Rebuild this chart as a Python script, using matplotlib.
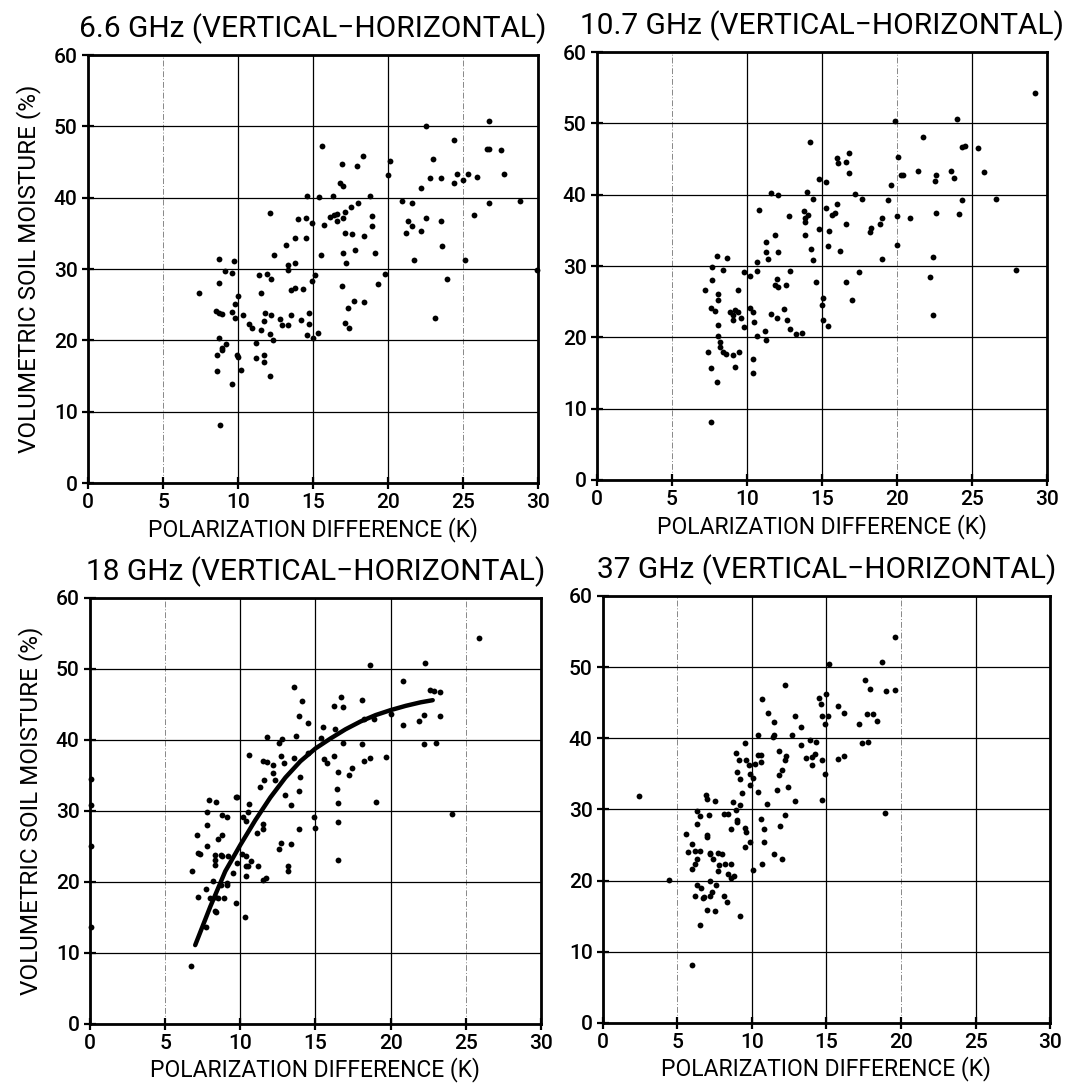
import matplotlib
matplotlib.use("Agg")
import matplotlib.pyplot as plt

plt.rcParams['font.family'] = ['Roboto', 'DejaVu Sans']
plt.rcParams['font.weight'] = 'medium'

# titles / labels
titles = ['6.6 GHz (VERTICAL\u2212HORIZONTAL)', '10.7 GHz (VERTICAL\u2212HORIZONTAL)',
          '18 GHz (VERTICAL\u2212HORIZONTAL)', '37 GHz (VERTICAL\u2212HORIZONTAL)']
xlabel_text = 'POLARIZATION DIFFERENCE (K)'
ylabel_text = 'VOLUMETRIC SOIL MOISTURE (%)'
x_ticks = [0, 5, 10, 15, 20, 25, 30]
y_ticks = [0, 10, 20, 30, 40, 50, 60]

# 6.6 GHz
x_66 = [14.6, 15.4, 12.1, 14.0, 14.5, 14.9, 13.2, 13.8, 14.5, 12.4, 15.5, 8.7, 9.7, 9.1, 9.6, 13.3, 13.3,
        13.8, 11.4, 11.9, 12.2, 15.1, 14.9, 8.7, 7.4, 11.5, 13.5, 13.8, 14.3, 10.0, 9.8, 8.5, 8.7, 8.9,
        9.6, 9.8, 10.3, 11.8, 12.2, 13.5, 14.7, 10.7, 10.9, 11.7, 11.5, 12.8, 12.9, 13.3, 14.2, 14.7,
        12.1, 12.3, 14.6, 15.0, 15.3, 8.7, 9.2, 8.9, 8.9, 8.6, 9.9, 10.0, 11.2, 11.2, 11.7, 11.7, 8.6,
        10.2, 12.1, 9.6, 8.8,
        22.5, 26.7, 24.4, 26.6, 26.7, 27.5, 15.6, 18.3, 16.9, 17.9, 20.1, 20.0, 23.0, 22.8, 23.5, 24.6,
        24.4, 25.0, 25.3, 25.9, 27.7, 22.2, 16.8, 17.0, 16.3, 18.8, 18.0, 17.5, 17.1, 16.1, 16.4, 16.6,
        17.0, 16.6, 15.7, 18.9, 18.9, 17.1, 17.6, 18.4, 20.9, 21.6, 21.3, 21.6, 21.2, 22.5, 22.2, 23.5,
        23.6, 26.7, 28.8, 25.7, 25.1, 17.0, 17.8, 19.1, 17.2, 21.7, 19.8, 19.3, 16.9, 17.7, 18.4, 17.3,
        17.1, 17.4, 23.9, 23.1, 29.9]
y_66 = [40.3, 40.1, 37.9, 37.0, 37.1, 36.5, 33.4, 34.3, 34.3, 32.0, 31.9, 31.4, 31.1, 29.7, 29.4, 30.5, 29.9,
        30.9, 29.1, 29.3, 28.6, 29.2, 28.3, 28.1, 26.6, 26.6, 27.1, 27.4, 27.2, 26.2, 25.1, 24.1, 23.9, 23.7,
        24.0, 23.1, 23.6, 23.8, 23.6, 23.6, 23.9, 22.3, 21.7, 22.7, 21.4, 23.0, 22.2, 22.2, 22.8, 22.3,
        20.9, 20.1, 20.7, 20.4, 21.1, 20.4, 19.5, 19.0, 18.6, 17.9, 17.9, 17.6, 19.6, 17.5, 17.9, 16.9, 15.7,
        15.9, 15.0, 13.9, 8.2,
        50.0, 50.7, 48.1, 46.8, 46.9, 46.7, 47.2, 45.9, 44.7, 44.5, 45.2, 43.2, 45.4, 42.8, 42.8, 43.3,
        42.0, 42.5, 43.3, 42.9, 43.3, 41.4, 42.1, 41.6, 40.3, 40.2, 39.3, 38.7, 38.0, 37.3, 37.6, 37.7,
        37.2, 36.7, 36.2, 37.4, 36.0, 35.1, 34.9, 34.7, 39.5, 39.3, 36.8, 36.0, 35.0, 37.2, 35.4, 36.8,
        33.2, 39.3, 39.5, 37.6, 31.3, 32.3, 32.7, 32.2, 30.8, 31.2, 29.3, 27.9, 27.6, 25.5, 25.4, 24.6,
        22.4, 21.7, 28.6, 23.2, 29.8]

# 10.7 GHz
x_107 = [14.2, 14.8, 15.3, 11.6, 12.1, 14.0, 14.4, 10.8, 12.8, 13.8, 14.1, 13.9, 13.9, 15.3, 14.8, 15.5,
         15.4, 11.9, 13.9, 11.3, 11.3, 12.1, 11.4, 14.3, 14.4, 10.7, 10.7, 8.0, 8.7, 7.7, 8.4, 9.8, 10.2,
         12.9, 7.7, 7.2, 9.4, 8.1, 12.0, 11.9, 12.1, 12.6, 14.6, 8.1, 15.1, 15.0, 7.6, 7.9, 8.9, 9.2, 9.4,
         9.1, 9.6, 9.1, 10.2, 10.4, 10.5, 12.5, 11.6, 12.0, 12.7, 8.1, 9.8, 12.9, 13.3, 13.7, 11.2, 10.7,
         15.1, 15.4, 8.1, 8.2, 8.2, 8.4, 8.6, 7.4, 9.1, 9.5, 11.3, 10.4, 7.6, 9.2, 10.4, 8.0, 7.6,
         29.2, 19.9, 24.0, 21.7, 16.0, 16.1, 16.6, 16.8, 16.8, 20.1, 24.3, 24.5, 25.4, 17.2, 17.7, 19.6,
         20.3, 20.4, 21.4, 22.6, 22.5, 23.6, 23.8, 25.8, 19.4, 24.3, 26.6, 16.0, 15.9, 15.7, 16.6, 19.0,
         18.9, 20.0, 20.9, 22.6, 24.1, 18.2, 18.3, 16.2, 20.0, 19.0, 22.4, 17.5, 22.2, 27.9, 16.6, 17.0,
         22.4]
y_107 = [47.4, 42.2, 41.8, 40.3, 40.0, 40.4, 39.4, 37.8, 37.0, 37.7, 37.2, 36.8, 36.2, 38.1, 35.2, 34.9,
         32.8, 34.3, 34.3, 33.3, 31.9, 31.9, 31.0, 32.4, 30.8, 30.6, 29.3, 31.4, 31.1, 29.8, 29.4, 29.2, 28.6,
         29.3, 28.1, 26.7, 26.6, 26.1, 28.2, 27.4, 27.0, 27.3, 27.7, 25.2, 25.5, 24.6, 24.1, 23.7, 23.6, 23.8,
         23.6, 23.1, 22.7, 22.4, 24.1, 23.6, 22.2, 24.0, 23.3, 22.7, 22.4, 21.7, 21.4, 21.1, 20.5, 20.6,
         20.9, 20.2, 22.4, 21.6, 20.2, 19.4, 18.7, 18.0, 17.6, 17.9, 17.5, 17.9, 19.6, 17.0, 15.7, 15.9, 15.0,
         13.8, 8.2,
         54.2, 50.3, 50.6, 48.1, 45.2, 44.4, 44.6, 45.9, 43.1, 45.3, 46.7, 46.8, 46.5, 40.1, 39.4, 41.3,
         42.8, 42.7, 43.3, 42.8, 41.9, 43.3, 42.4, 43.2, 39.2, 39.2, 39.4, 38.7, 37.5, 37.1, 35.9, 36.7,
         35.9, 37.0, 36.8, 37.4, 37.3, 34.8, 35.3, 32.1, 33.0, 31.0, 31.2, 29.2, 28.5, 29.5, 27.7, 25.3,
         23.1]

# 18 GHz
x_18 = [0.05, 0.05, 0.05, 0.05,
        13.6, 14.1, 13.9, 14.5, 11.8, 12.8, 13.7, 12.6, 10.6, 12.7, 13.6, 14.5, 11.5, 11.8, 12.2, 12.9,
        12.2, 12.3, 11.6, 11.3, 14.0, 13.9, 13.0, 13.4, 9.7, 9.8, 7.9, 8.4, 10.6, 10.5, 7.8, 8.8, 9.1,
        10.2, 10.4, 7.8, 11.5, 11.5, 11.1, 13.9, 7.1, 8.8, 8.5, 7.8, 12.7, 12.6, 13.4, 7.2, 7.3, 8.3,
        8.7, 8.8, 9.2, 8.3, 8.3, 10.1, 10.4, 10.7, 9.8, 10.4, 10.5, 11.2, 9.5, 10.4, 11.5, 11.7, 13.2,
        13.2, 6.8, 8.2, 9.1, 9.1, 8.7, 7.7, 7.2, 8.0, 8.3, 8.5, 8.9, 9.7, 8.3, 8.4, 10.3, 7.7, 6.7,
        25.9, 18.6, 22.3, 20.8, 22.6, 22.9, 23.3, 16.7, 16.2, 16.8, 18.1, 18.2, 18.9, 20.0, 22.2, 23.3,
        21.9, 20.8, 15.5, 16.3, 15.4, 16.8, 18.1, 22.2, 23.0, 16.2, 19.7, 15.6, 15.8, 18.2, 18.6, 17.4,
        16.5, 17.2, 16.4, 16.5, 19.0, 14.9, 15.0, 16.5, 24.1, 16.5]
y_18 = [34.5, 30.9, 25.1, 13.6,
        47.5, 45.5, 43.4, 42.4, 40.4, 40.2, 40.5, 39.5, 37.9, 37.8, 37.5, 38.2, 37.0, 36.9, 36.4, 36.7,
        35.3, 34.4, 34.4, 33.4, 34.8, 32.8, 32.3, 30.8, 32.0, 32.0, 31.5, 31.2, 31.0, 29.9, 29.9, 29.4, 29.1,
        29.2, 28.6, 28.0, 28.2, 27.4, 26.9, 27.5, 26.6, 26.6, 26.1, 25.1, 25.5, 24.7, 25.4, 24.1, 23.9, 23.8,
        23.8, 23.6, 23.7, 23.1, 22.4, 23.9, 23.6, 22.9, 22.6, 22.2, 22.2, 22.3, 21.3, 20.9, 20.3, 20.6, 22.3,
        21.5, 21.6, 20.2, 19.9, 19.6, 19.5, 19.0, 17.9, 17.7, 17.9, 17.7, 17.8, 17.0, 15.9, 15.7, 15.0, 13.7,
        8.2,
        54.4, 50.5, 50.8, 48.3, 47.1, 46.9, 46.8, 46.1, 44.8, 44.7, 45.6, 43.0, 43.0, 43.6, 43.5, 43.4,
        42.6, 42.1, 41.8, 41.5, 40.3, 39.6, 39.4, 39.4, 39.6, 37.8, 37.6, 37.3, 36.8, 37.0, 37.4, 36.0,
        35.5, 35.0, 33.1, 31.1, 31.3, 29.2, 27.6, 28.5, 29.6, 23.1]

# 18 GHz regression curve
fit_18_x = [7.0, 8.0, 9.0, 10.0, 11.0, 12.0, 13.0, 14.0, 15.0, 16.0, 17.0, 18.0, 19.0, 20.0, 21.0, 22.0, 22.8]
fit_18_y = [11.1, 16.5, 21.5, 25.2, 28.7, 31.9, 34.7, 37.0, 38.8, 40.2, 41.5, 42.6, 43.5, 44.2, 44.8, 45.3, 45.6]

# 37 GHz
x_37 = [12.2, 10.7, 14.5, 15.0, 14.6, 11.1, 12.9, 11.5, 13.3, 14.7, 15.1, 14.9, 10.4, 11.4, 11.5, 12.7,
        9.5, 13.9, 14.3, 13.3, 8.9, 10.4, 10.6, 11.8, 12.3, 13.6, 14.0, 14.2, 14.7, 14.0, 9.1, 9.6, 9.8,
        10.2, 10.6, 12.2, 12.0, 9.0, 9.2, 9.9, 10.1, 11.8, 14.9, 9.9, 10.4, 11.7, 12.4, 9.3, 6.9, 7.0,
        7.5, 8.7, 12.9, 14.7, 11.0, 2.4, 6.3, 6.5, 7.1, 8.1, 8.4, 8.9, 9.2, 9.0, 9.0, 6.3, 10.6, 12.2,
        9.5, 9.6, 8.6, 10.8, 11.9, 5.6, 7.0, 7.0, 6.0, 9.9, 10.8, 5.7, 6.2, 6.5, 7.2, 7.2, 7.7, 8.0, 9.5,
        6.3, 7.4, 7.8, 8.2, 8.6, 6.2, 6.0, 7.7, 8.4, 8.8, 8.6, 10.1, 10.7, 11.5, 12.0, 4.4, 7.2, 6.3,
        6.6, 7.6, 7.3, 7.2, 6.2, 6.7, 6.8, 8.1, 8.3, 7.0, 7.5, 9.2, 6.5, 6.0,
        19.6, 18.7, 15.2, 17.6, 17.9, 19.0, 19.6, 15.8, 16.2, 17.7, 18.1, 18.4, 17.2, 17.4, 17.8, 15.8,
        16.2, 18.9]
y_37 = [47.5, 45.5, 45.7, 46.2, 44.8, 43.5, 43.2, 42.3, 41.6, 43.1, 43.1, 42.0, 40.4, 40.2, 40.5, 40.4,
        39.4, 39.7, 39.5, 39.0, 37.9, 37.7, 37.6, 38.2, 37.5, 37.2, 37.4, 37.8, 36.9, 36.2, 37.0, 36.9, 36.2,
        36.4, 36.7, 36.9, 35.5, 35.2, 34.3, 35.0, 34.4, 34.8, 35.0, 33.5, 32.4, 32.8, 33.1, 32.3, 32.0, 31.5,
        31.2, 31.1, 31.2, 31.3, 30.8, 31.9, 29.8, 29.1, 29.2, 29.4, 29.4, 29.9, 30.6, 28.5, 28.2, 28.0, 28.6,
        29.2, 27.4, 26.9, 27.2, 27.3, 27.7, 26.6, 26.4, 26.1, 25.2, 25.4, 25.4, 24.0, 24.2, 24.1, 23.9, 23.7,
        23.9, 23.7, 24.7, 23.1, 23.0, 22.2, 22.3, 22.3, 22.3, 21.6, 21.3, 20.9, 20.7, 20.4, 21.5, 22.3, 23.7,
        23.1, 20.1, 20.0, 19.4, 19.0, 19.4, 18.4, 17.8, 17.8, 17.6, 17.7, 17.8, 17.0, 15.9, 15.7, 15.0, 13.7,
        8.2,
        54.3, 50.7, 50.4, 48.2, 46.9, 46.6, 46.8, 44.6, 43.5, 43.4, 43.4, 42.5, 42.0, 39.3, 39.5, 37.1,
        37.5, 29.5]

panels = [(x_66, y_66), (x_107, y_107), (x_18, y_18), (x_37, y_37)]

# axes rectangles in figure fractions (left, bottom, width, height)
rects = [(0.0822, 0.5544, 0.4202, 0.3948),
         (0.5574, 0.5572, 0.4202, 0.3948),
         (0.0840, 0.0554, 0.4211, 0.3930),
         (0.5630, 0.0563, 0.4174, 0.3939)]
# x gridlines that came out faint in the print
faint_x = [(5, 25), (5, 20), (5, 25), (5, 20)]

fig = plt.figure(figsize=(10.71, 10.84), dpi=100)

for i, (xs, ys) in enumerate(panels):
    ax = fig.add_axes(rects[i])
    ax.plot(xs, ys, 'o', color='black', ms=4.2, mew=0, zorder=3, clip_on=False)
    if i == 2:
        ax.plot(fit_18_x, fit_18_y, '-', color='black', lw=3.2, solid_capstyle='round', zorder=4)
    ax.set_xlim(0, 30)
    ax.set_ylim(0, 60)
    ax.set_xticks(x_ticks)
    ax.set_yticks(y_ticks)
    ax.grid(True, color='black', lw=0.9)
    for t, gl in zip(x_ticks, ax.get_xgridlines()):
        if t in faint_x[i]:
            gl.set_color('#888888')
            gl.set_linestyle((0, (6, 2, 1, 2)))
            gl.set_linewidth(0.7)
    ax.set_axisbelow(True)
    for s in ax.spines.values():
        s.set_linewidth(2.0)
    ax.tick_params(direction='inout', length=9, width=1.6, labelsize=15, pad=3)
    ax.set_title(titles[i], fontsize=21.5, pad=13)
    ax.set_xlabel(xlabel_text, fontsize=16.5, labelpad=3)
    if i % 2 == 0:
        ax.set_ylabel(ylabel_text, fontsize=17.5, labelpad=9)

fig.savefig('out.png', dpi=100)
